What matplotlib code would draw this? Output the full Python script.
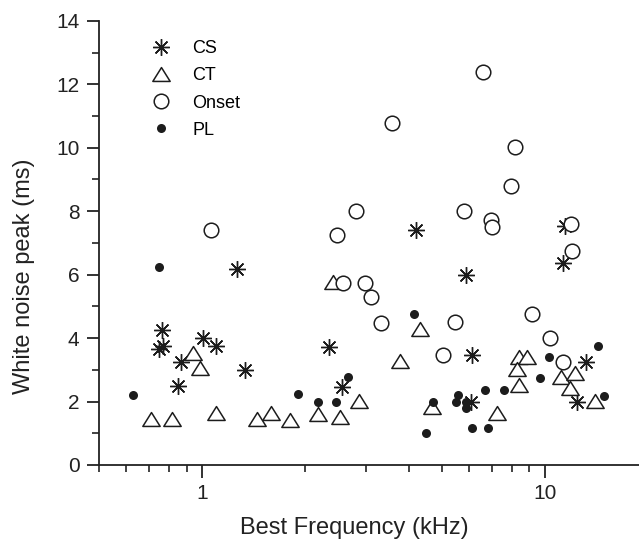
import numpy as np
import matplotlib
matplotlib.use("Agg")
import matplotlib.pyplot as plt
from matplotlib.path import Path

plt.rcParams['font.family'] = ['Liberation Sans', 'DejaVu Sans']

# Best frequency (kHz) / white noise peak (ms)
cs_bf = [0.764, 0.749, 0.769, 1.007, 1.10, 0.868, 0.851, 1.266, 1.336, 2.34, 2.55,
         4.20, 5.87, 6.12, 6.07, 11.29, 13.2, 12.4, 11.44]
cs_peak = [4.27, 3.67, 3.76, 4.01, 3.76, 3.26, 2.50, 6.19, 3.0, 3.73, 2.47,
           7.40, 6.0, 3.48, 1.99, 6.38, 3.26, 1.99, 7.52]

ct_bf = [0.709, 0.817, 1.10, 1.44, 1.59, 0.941, 0.987, 1.80, 2.17, 2.53, 2.86, 3.77,
         4.31, 4.67, 2.40, 8.39, 8.86, 8.28, 8.39, 7.24, 11.14, 12.24, 11.83, 14.0]
ct_peak = [1.45, 1.45, 1.64, 1.45, 1.64, 3.54, 3.07, 1.42, 1.61, 1.52, 2.02, 3.29,
           4.30, 1.83, 5.78, 3.41, 3.41, 3.03, 2.53, 1.64, 2.78, 2.91, 2.43, 2.02]

onset_bf = [1.06, 2.80, 2.48, 2.58, 2.98, 3.10, 3.32, 6.59, 3.57, 8.17, 7.96, 5.80,
            6.95, 7.0, 11.9, 12.0, 5.46, 5.03, 9.16, 10.34, 11.29]
onset_peak = [7.40, 8.0, 7.24, 5.75, 5.75, 5.31, 4.49, 12.4, 10.78, 10.02, 8.79, 8.0,
              7.71, 7.49, 7.59, 6.76, 4.52, 3.48, 4.77, 4.01, 3.26]

pl_bf = [0.63, 0.75, 1.9, 2.17, 2.46, 2.67, 4.14, 4.49, 4.7, 5.57, 5.5, 5.87, 5.87,
         6.12, 6.81, 6.68, 7.59, 9.67, 10.27, 14.3, 14.9]
pl_peak = [2.2, 6.25, 2.25, 1.97, 2.0, 2.78, 4.75, 1.0, 2.0, 2.2, 2.0, 2.0, 1.8,
           1.17, 1.17, 2.37, 2.37, 2.75, 3.41, 3.76, 2.18]

ink = '#1c1c1c'

# slightly flattened triangle like in the original
tri = Path([(-1, -0.8), (1, -0.8), (0, 0.8), (-1, -0.8)],
           [Path.MOVETO, Path.LINETO, Path.LINETO, Path.CLOSEPOLY])

fig = plt.figure(figsize=(6.39, 5.41), dpi=100)
ax = fig.add_axes([0.155, 0.1405, 0.845, 0.821])

ax.plot(cs_bf, cs_peak, ls='none', marker=(8, 2, 0), ms=12, mew=1.0,
        mec=ink, color=ink, label='CS')
ax.plot(cs_bf, cs_peak, ls='none', marker='o', ms=2.5, color=ink)
ax.plot(ct_bf, ct_peak, ls='none', marker=tri, ms=12.5, mew=1.1,
        mec=ink, mfc='white', label='CT')
ax.plot(onset_bf, onset_peak, ls='none', marker='o', ms=10.5, mew=1.1,
        mec=ink, mfc='white', label='Onset')
ax.plot(pl_bf, pl_peak, ls='none', marker='o', ms=6.5, mew=0,
        color=ink, label='PL')

ax.set_xscale('log')
ax.set_xlim(0.5, 18.8)
ax.set_ylim(0, 14)
ax.set_yticks(np.arange(0, 15, 2))
ax.set_yticks(np.arange(1, 14, 2), minor=True)
ax.set_xticks([1, 10])
ax.set_xticklabels(['1', '10'])

for s in ['top', 'right']:
    ax.spines[s].set_visible(False)
for s in ['left', 'bottom']:
    ax.spines[s].set_linewidth(1.3)
    ax.spines[s].set_color('#222222')

ax.tick_params(which='major', direction='out', length=9, width=1.3,
               labelsize=15, colors='#222222', pad=5)
ax.tick_params(which='minor', direction='out', length=5, width=1.2, colors='#222222')
ax.tick_params(axis='x', which='minor', labelbottom=False)

ax.set_xlabel('Best Frequency (kHz)', fontsize=17, color='#222222')
ax.set_ylabel('White noise peak (ms)', fontsize=17, color='#222222')
ax.xaxis.set_label_coords(0.473, -0.117)
ax.yaxis.set_label_coords(-0.119, 0.426)

handles, labels = ax.get_legend_handles_labels()
ax.legend(handles, labels, loc='upper left', bbox_to_anchor=(0.0976, 0.956),
          frameon=False, fontsize=13, handlelength=1.0, handletextpad=1.25,
          labelspacing=0.56, borderaxespad=0, borderpad=0)

fig.savefig('out.png', dpi=100)
